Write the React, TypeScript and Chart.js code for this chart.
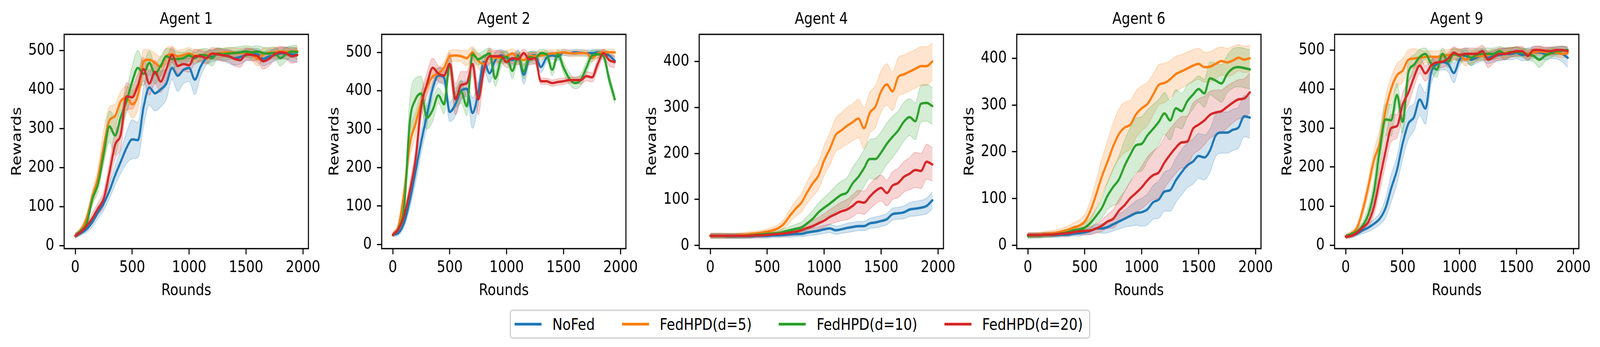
import { useEffect, useRef } from 'react';
import { Chart, registerables } from 'chart.js';

Chart.register(...registerables);
Chart.defaults.font.family = "'DejaVu Sans', sans-serif";
Chart.defaults.color = '#000';

// ---------------- data ----------------
const rounds = [0, 50, 100, 150, 200, 250, 300, 350, 400, 450, 500, 550, 600, 650, 700, 750, 800, 850, 900, 950, 1000, 1050, 1100, 1150, 1200, 1250, 1300, 1350, 1400, 1450, 1500, 1550, 1600, 1650, 1700, 1750, 1800, 1850, 1900, 1950];
const xTickValues = [0, 500, 1000, 1500, 2000];
const yTicks500 = [0, 100, 200, 300, 400, 500];
const yTicks400 = [0, 100, 200, 300, 400];
const seriesLabels = ['NoFed', 'FedHPD(d=5)', 'FedHPD(d=10)', 'FedHPD(d=20)'];
const panelTitles = ['Agent 1', 'Agent 2', 'Agent 4', 'Agent 6', 'Agent 9'];

// Agent 1
const a1NoFed = [25, 32, 42, 60, 85, 108, 140, 180, 215, 250, 272, 270, 355, 405, 390, 400, 415, 455, 435, 450, 455, 425, 458, 480, 485, 490, 488, 484, 480, 483, 488, 490, 490, 478, 484, 488, 492, 493, 490, 488];
const a1D5 = [25, 40, 70, 125, 175, 255, 320, 332, 370, 378, 362, 385, 472, 476, 468, 458, 486, 490, 485, 488, 492, 486, 488, 488, 490, 492, 494, 495, 494, 493, 495, 490, 478, 490, 494, 495, 497, 496, 497, 498];
const a1D10 = [25, 38, 57, 119, 158, 235, 305, 282, 330, 370, 420, 455, 440, 468, 440, 460, 485, 478, 478, 480, 487, 480, 488, 487, 480, 492, 490, 492, 493, 495, 497, 495, 497, 493, 492, 494, 480, 490, 497, 495];
const a1D20 = [25, 35, 50, 70, 95, 120, 187, 258, 285, 382, 380, 410, 452, 415, 445, 420, 452, 488, 460, 465, 462, 485, 485, 480, 492, 490, 487, 485, 478, 475, 490, 488, 485, 472, 478, 490, 495, 493, 485, 488];
const a1NoFedSd = [6, 6, 8, 12, 15, 18, 20, 25, 30, 40, 50, 45, 50, 45, 45, 45, 40, 30, 40, 35, 35, 38, 25, 18, 15, 15, 15, 18, 18, 18, 15, 15, 15, 18, 18, 15, 15, 15, 18, 18];
const a1D5Sd = [6, 8, 12, 18, 25, 40, 35, 30, 25, 30, 35, 35, 30, 25, 25, 25, 20, 20, 15, 15, 15, 15, 15, 12, 12, 12, 12, 12, 12, 12, 12, 15, 18, 15, 12, 12, 10, 10, 10, 10];
const a1D10Sd = [6, 7, 10, 15, 20, 25, 40, 50, 35, 30, 40, 45, 30, 30, 25, 25, 20, 25, 18, 15, 15, 15, 15, 18, 20, 15, 15, 15, 15, 15, 15, 15, 15, 15, 15, 15, 20, 18, 15, 18];
const a1D20Sd = [6, 6, 8, 12, 15, 20, 25, 35, 35, 35, 30, 30, 30, 30, 30, 28, 25, 20, 20, 18, 18, 18, 15, 15, 15, 15, 15, 15, 18, 18, 15, 15, 15, 20, 18, 15, 15, 15, 18, 18];

// Agent 2
const a2NoFed = [25, 30, 57, 115, 190, 268, 337, 406, 440, 434, 345, 365, 400, 405, 342, 394, 475, 446, 480, 492, 486, 480, 492, 442, 486, 492, 462, 486, 492, 489, 500, 498, 500, 499, 498, 498, 500, 498, 492, 478];
const a2D5 = [25, 48, 135, 262, 314, 371, 411, 437, 445, 460, 490, 492, 490, 485, 500, 478, 470, 490, 486, 487, 490, 497, 485, 480, 490, 490, 492, 495, 497, 498, 500, 498, 497, 498, 498, 485, 497, 500, 500, 500];
const a2D10 = [25, 42, 100, 320, 378, 393, 330, 350, 388, 365, 470, 382, 398, 360, 495, 482, 490, 497, 432, 480, 488, 452, 490, 450, 488, 485, 498, 495, 455, 495, 460, 432, 420, 428, 460, 492, 495, 490, 430, 378];
const a2D20 = [25, 40, 75, 140, 222, 360, 417, 460, 445, 440, 470, 378, 415, 420, 470, 378, 455, 490, 490, 490, 475, 485, 482, 498, 482, 485, 425, 425, 420, 423, 425, 428, 428, 428, 438, 435, 470, 498, 480, 475];
const a2NoFedSd = [5, 6, 10, 20, 30, 30, 30, 20, 20, 20, 25, 30, 25, 20, 40, 30, 20, 25, 20, 15, 15, 15, 15, 25, 15, 12, 15, 12, 10, 10, 8, 8, 8, 8, 8, 8, 8, 8, 10, 10];
const a2D5Sd = [6, 10, 25, 35, 30, 25, 20, 20, 15, 15, 15, 15, 15, 20, 15, 20, 20, 15, 15, 15, 15, 12, 15, 15, 12, 12, 10, 10, 10, 8, 8, 8, 8, 8, 8, 10, 10, 8, 8, 8];
const a2D10Sd = [5, 8, 25, 60, 55, 45, 30, 30, 20, 25, 25, 25, 30, 25, 15, 15, 15, 15, 20, 20, 15, 20, 15, 20, 15, 15, 10, 10, 15, 12, 15, 15, 15, 15, 15, 15, 10, 10, 15, 12];
const a2D20Sd = [5, 8, 15, 20, 25, 30, 30, 25, 20, 20, 30, 40, 35, 30, 30, 40, 20, 20, 15, 15, 15, 15, 15, 10, 15, 15, 8, 8, 8, 8, 8, 8, 8, 10, 12, 12, 15, 10, 15, 15];

// Agent 4
const a4NoFed = [21, 21, 21, 20, 20, 20, 20, 20, 21, 21, 21, 22, 22, 23, 24, 25, 25, 28, 30, 32, 35, 37, 33, 35, 38, 40, 42, 42, 48, 50, 53, 57, 68, 70, 72, 78, 80, 82, 86, 98];
const a4D5 = [21, 21, 21, 21, 21, 22, 23, 25, 26, 28, 30, 33, 38, 48, 65, 80, 93, 115, 135, 152, 185, 210, 240, 250, 260, 268, 276, 255, 288, 302, 335, 350, 335, 366, 372, 378, 384, 390, 390, 400];
const a4D10 = [21, 21, 21, 21, 21, 21, 21, 22, 23, 24, 25, 26, 27, 30, 33, 36, 39, 48, 58, 72, 82, 91, 101, 110, 115, 135, 149, 168, 188, 188, 202, 221, 236, 250, 269, 279, 270, 308, 310, 303];
const a4D20 = [21, 21, 21, 21, 21, 21, 21, 21, 22, 22, 23, 24, 25, 26, 28, 30, 33, 38, 42, 48, 54, 62, 68, 74, 78, 86, 95, 93, 106, 118, 125, 114, 130, 136, 149, 156, 164, 162, 182, 176];
const a4NoFedSd = [5, 5, 5, 5, 5, 5, 5, 5, 5, 5, 5, 5, 5, 5, 6, 6, 6, 7, 8, 8, 9, 9, 9, 9, 10, 10, 10, 10, 11, 12, 12, 12, 13, 13, 14, 15, 16, 16, 17, 18];
const a4D5Sd = [5, 5, 5, 5, 5, 5, 5, 5, 5, 5, 6, 7, 8, 10, 14, 17, 20, 24, 28, 30, 33, 35, 37, 38, 40, 40, 42, 45, 45, 45, 45, 45, 42, 42, 42, 42, 42, 42, 42, 40];
const a4D10Sd = [5, 5, 5, 5, 5, 5, 5, 5, 5, 5, 5, 5, 6, 7, 8, 10, 12, 15, 18, 20, 22, 25, 28, 30, 32, 35, 38, 40, 42, 45, 45, 45, 45, 42, 42, 40, 40, 40, 40, 40];
const a4D20Sd = [5, 5, 5, 5, 5, 5, 5, 5, 5, 5, 5, 5, 5, 6, 7, 8, 9, 10, 12, 13, 15, 16, 18, 20, 22, 24, 25, 25, 27, 28, 28, 28, 30, 32, 33, 35, 38, 38, 38, 36];

// Agent 6
const a6NoFed = [21, 21, 21, 22, 22, 22, 23, 23, 25, 26, 28, 31, 36, 36, 39, 45, 51, 57, 63, 69, 71, 77, 92, 98, 115, 118, 139, 156, 171, 179, 191, 188, 203, 235, 241, 241, 247, 252, 276, 273];
const a6D5 = [22, 22, 23, 24, 25, 27, 30, 33, 38, 42, 51, 74, 109, 147, 179, 212, 238, 252, 258, 280, 293, 302, 322, 343, 347, 355, 366, 372, 378, 384, 388, 381, 382, 388, 394, 391, 395, 401, 397, 400];
const a6D10 = [20, 21, 21, 22, 23, 24, 26, 28, 32, 34, 38, 48, 63, 80, 106, 125, 141, 170, 194, 214, 217, 235, 249, 264, 282, 267, 293, 287, 308, 322, 334, 325, 357, 352, 346, 366, 378, 381, 379, 376];
const a6D20 = [22, 22, 22, 23, 23, 24, 25, 26, 28, 30, 31, 32, 36, 42, 51, 57, 74, 86, 101, 112, 124, 139, 150, 156, 177, 194, 209, 220, 222, 249, 258, 267, 279, 284, 287, 296, 305, 312, 314, 327];
const a6NoFedSd = [5, 5, 5, 5, 5, 5, 5, 5, 5, 6, 6, 7, 8, 10, 12, 14, 16, 18, 22, 26, 30, 33, 36, 40, 42, 45, 47, 48, 48, 48, 48, 48, 46, 45, 44, 44, 44, 44, 44, 44];
const a6D5Sd = [5, 5, 5, 5, 6, 6, 7, 8, 10, 12, 15, 22, 30, 38, 45, 50, 53, 54, 52, 50, 48, 46, 44, 43, 42, 40, 38, 36, 35, 34, 33, 32, 32, 32, 30, 30, 30, 28, 28, 28];
const a6D10Sd = [5, 5, 5, 5, 5, 5, 6, 7, 8, 9, 10, 12, 15, 22, 30, 40, 50, 55, 58, 58, 58, 55, 52, 48, 45, 42, 40, 38, 35, 30, 28, 30, 35, 38, 40, 40, 42, 42, 42, 42];
const a6D20Sd = [5, 5, 5, 5, 5, 5, 5, 6, 6, 7, 8, 9, 10, 12, 15, 20, 25, 30, 35, 40, 45, 50, 52, 55, 55, 55, 55, 55, 55, 55, 55, 52, 50, 48, 45, 45, 43, 42, 42, 42];

// Agent 9
const a9NoFed = [22, 24, 30, 38, 45, 55, 68, 95, 146, 192, 260, 311, 328, 373, 350, 441, 464, 469, 464, 441, 475, 486, 475, 481, 487, 480, 485, 487, 490, 490, 493, 487, 490, 493, 495, 490, 493, 492, 490, 480];
const a9D5 = [22, 30, 45, 90, 152, 220, 262, 345, 401, 435, 447, 475, 478, 480, 482, 483, 482, 485, 487, 488, 488, 475, 480, 485, 485, 487, 490, 490, 492, 495, 495, 495, 490, 493, 497, 495, 495, 493, 490, 492];
const a9D10 = [22, 28, 35, 50, 80, 140, 245, 322, 320, 385, 316, 441, 462, 482, 490, 465, 450, 490, 470, 490, 485, 490, 480, 488, 490, 490, 490, 497, 490, 495, 495, 493, 488, 485, 475, 485, 492, 497, 498, 500];
const a9D20 = [22, 24, 32, 45, 60, 100, 170, 240, 300, 305, 360, 390, 430, 460, 440, 460, 468, 470, 478, 493, 487, 490, 490, 490, 497, 475, 482, 490, 490, 493, 497, 497, 485, 500, 500, 498, 497, 500, 500, 497];
const a9NoFedSd = [5, 5, 6, 8, 10, 12, 15, 25, 35, 35, 40, 40, 35, 40, 40, 30, 20, 20, 20, 25, 15, 15, 15, 15, 15, 15, 15, 15, 15, 15, 15, 15, 15, 15, 15, 15, 15, 15, 20, 25];
const a9D5Sd = [5, 6, 8, 15, 20, 25, 35, 35, 30, 30, 30, 25, 25, 20, 15, 15, 15, 15, 15, 15, 15, 15, 15, 15, 12, 12, 12, 12, 12, 12, 12, 10, 10, 10, 10, 10, 10, 10, 10, 10];
const a9D10Sd = [5, 5, 8, 12, 20, 30, 40, 40, 40, 30, 30, 30, 25, 20, 15, 20, 20, 15, 15, 15, 15, 15, 20, 15, 15, 15, 15, 12, 15, 12, 12, 12, 15, 15, 20, 15, 12, 10, 10, 10];
const a9D20Sd = [5, 5, 6, 10, 15, 20, 30, 35, 35, 30, 30, 30, 25, 20, 20, 15, 15, 15, 15, 15, 15, 15, 15, 15, 15, 20, 15, 15, 15, 12, 12, 12, 12, 10, 10, 10, 10, 10, 10, 10];

// ---------------- styling / layout ----------------
const seriesRgb = ['31,119,180', '255,127,14', '44,160,44', '214,39,40'];
const FIG_W = 4913;
const FIG_H = 889;
const FONT = 41.7;
const LINE_H = FONT * 1.2;
const PLOT_W = 750;
const PLOT_H = 549;
const PLOT_TOP = 88;
const Y_AXIS_W = 190;
const RIGHT_PAD = 60;
const CANVAS_H = 780;
const X_AXIS_H = CANVAS_H - PLOT_TOP - PLOT_H;
const CANVAS_W = Y_AXIS_W + PLOT_W + RIGHT_PAD;
const PLOT_LEFTS = [197, 1172, 2147, 3122, 4098];

const PANELS = [
  { title: panelTitles[0], means: [a1NoFed, a1D5, a1D10, a1D20], sds: [a1NoFedSd, a1D5Sd, a1D10Sd, a1D20Sd], yMin: -8, yMax: 541, yTicks: yTicks500 },
  { title: panelTitles[1], means: [a2NoFed, a2D5, a2D10, a2D20], sds: [a2NoFedSd, a2D5Sd, a2D10Sd, a2D20Sd], yMin: -11, yMax: 547, yTicks: yTicks500 },
  { title: panelTitles[2], means: [a4NoFed, a4D5, a4D10, a4D20], sds: [a4NoFedSd, a4D5Sd, a4D10Sd, a4D20Sd], yMin: -7, yMax: 459, yTicks: yTicks400 },
  { title: panelTitles[3], means: [a6NoFed, a6D5, a6D10, a6D20], sds: [a6NoFedSd, a6D5Sd, a6D10Sd, a6D20Sd], yMin: -7, yMax: 451, yTicks: yTicks400 },
  { title: panelTitles[4], means: [a9NoFed, a9D5, a9D10, a9D20], sds: [a9NoFedSd, a9D5Sd, a9D10Sd, a9D20Sd], yMin: -9, yMax: 540, yTicks: yTicks500 },
];

const framePlugin = {
  id: 'frame',
  afterDraw(chart: any) {
    const { ctx, chartArea } = chart;
    ctx.save();
    ctx.strokeStyle = '#000';
    ctx.lineWidth = 3.3;
    ctx.strokeRect(chartArea.left, chartArea.top, chartArea.right - chartArea.left, chartArea.bottom - chartArea.top);
    ctx.restore();
  },
};

function Panel({ panel, plotLeft }: { panel: any; plotLeft: number }) {
  const ref = useRef<HTMLCanvasElement | null>(null);
  useEffect(() => {
    const canvas = ref.current;
    if (!canvas) return;
    const datasets: any[] = [];
    panel.means.forEach((mean: number[], i: number) => {
      const sd: number[] = panel.sds[i];
      const c = seriesRgb[i];
      datasets.push({
        label: seriesLabels[i] + ' upper',
        data: rounds.map((x, k) => ({ x, y: mean[k] + sd[k] })),
        borderColor: `rgba(${c},0.22)`,
        backgroundColor: `rgba(${c},0.2)`,
        borderWidth: 2.5,
        pointRadius: 0,
        fill: '+1',
        cubicInterpolationMode: 'monotone',
        order: 20 - i,
      });
      datasets.push({
        label: seriesLabels[i] + ' lower',
        data: rounds.map((x, k) => ({ x, y: mean[k] - sd[k] })),
        borderColor: `rgba(${c},0.22)`,
        backgroundColor: 'rgba(0,0,0,0)',
        borderWidth: 2.5,
        pointRadius: 0,
        fill: false,
        cubicInterpolationMode: 'monotone',
        order: 20 - i,
      });
    });
    panel.means.forEach((mean: number[], i: number) => {
      datasets.push({
        label: seriesLabels[i],
        data: rounds.map((x, k) => ({ x, y: mean[k] })),
        borderColor: `rgb(${seriesRgb[i]})`,
        borderWidth: 6.25,
        pointRadius: 0,
        fill: false,
        cubicInterpolationMode: 'monotone',
        borderJoinStyle: 'round',
        borderCapStyle: 'round',
        order: 4 - i,
      });
    });

    const chart = new Chart(canvas, {
      type: 'line',
      data: { datasets },
      plugins: [framePlugin],
      options: {
        animation: false,
        responsive: false,
        devicePixelRatio: 1,
        events: [],
        layout: { padding: { left: 0, right: RIGHT_PAD, top: 0, bottom: 0 } },
        plugins: {
          legend: { display: false },
          tooltip: { enabled: false },
          title: {
            display: true,
            text: panel.title,
            fullSize: false,
            color: '#000',
            font: { size: FONT, weight: 'normal' },
            padding: { top: 25.5, bottom: PLOT_TOP - 25.5 - LINE_H },
          },
        },
        scales: {
          x: {
            type: 'linear',
            min: -97.5,
            max: 2047.5,
            afterBuildTicks: (s: any) => {
              s.ticks = xTickValues.map((v) => ({ value: v }));
            },
            afterFit: (s: any) => {
              s.height = X_AXIS_H;
            },
            ticks: { color: '#000', font: { size: FONT }, padding: 10, maxRotation: 0, autoSkip: false, callback: (v: any) => String(v) },
            grid: { display: true, drawOnChartArea: false, drawTicks: true, tickLength: 14.6, tickWidth: 3.3, tickColor: '#000' },
            border: { display: false },
            title: { display: true, text: 'Rounds', color: '#000', font: { size: FONT }, padding: { top: 0, bottom: 9.5 } },
          },
          y: {
            type: 'linear',
            min: panel.yMin,
            max: panel.yMax,
            afterBuildTicks: (s: any) => {
              s.ticks = panel.yTicks.map((v: number) => ({ value: v }));
            },
            afterFit: (s: any) => {
              s.width = Y_AXIS_W;
            },
            ticks: { color: '#000', font: { size: FONT }, padding: 16, autoSkip: false, callback: (v: any) => String(v) },
            grid: { display: true, drawOnChartArea: false, drawTicks: true, tickLength: 14.6, tickWidth: 3.3, tickColor: '#000' },
            border: { display: false },
            title: { display: true, text: 'Rewards', color: '#000', font: { size: FONT }, padding: { top: 21, bottom: 0 } },
          },
        },
      } as any,
    });
    return () => chart.destroy();
  }, [panel]);

  return (
    <canvas
      ref={ref}
      width={CANVAS_W}
      height={CANVAS_H}
      style={{ position: 'absolute', left: plotLeft - Y_AXIS_W, top: 0, width: CANVAS_W, height: CANVAS_H }}
    />
  );
}

function Legend() {
  return (
    <div
      style={{
        position: 'absolute',
        left: 1565,
        top: 793,
        width: 1783,
        height: 75,
        boxSizing: 'border-box',
        border: '4px solid #d6d6d6',
        borderRadius: 9,
        display: 'flex',
        alignItems: 'center',
        paddingLeft: 11,
        fontFamily: "'DejaVu Sans', sans-serif",
        fontSize: FONT,
        color: '#000',
        background: '#fff',
      }}
    >
      {seriesLabels.map((label, i) => (
        <div key={label} style={{ display: 'flex', alignItems: 'center', marginRight: i < seriesLabels.length - 1 ? 83 : 0 }}>
          <span style={{ display: 'inline-block', width: 83, height: 6.5, background: `rgb(${seriesRgb[i]})`, marginRight: 33 }} />
          <span style={{ lineHeight: 1, whiteSpace: 'nowrap' }}>{label}</span>
        </div>
      ))}
    </div>
  );
}

export default function App() {
  const vw = typeof window !== 'undefined' ? window.innerWidth : FIG_W;
  const sx = Math.min(1, vw / FIG_W);
  useEffect(() => {
    document.documentElement.style.overflow = 'hidden';
    document.body.style.overflow = 'hidden';
  }, []);
  return (
    <div
      style={{
        position: 'absolute',
        left: 0,
        top: 0,
        width: FIG_W,
        height: FIG_H,
        background: '#fff',
        overflow: 'hidden',
        transform: `scale(${sx}, 1)`,
        transformOrigin: '0 0',
      }}
    >
      {PANELS.map((p, i) => (
        <Panel key={p.title} panel={p} plotLeft={PLOT_LEFTS[i]} />
      ))}
      <Legend />
    </div>
  );
}
